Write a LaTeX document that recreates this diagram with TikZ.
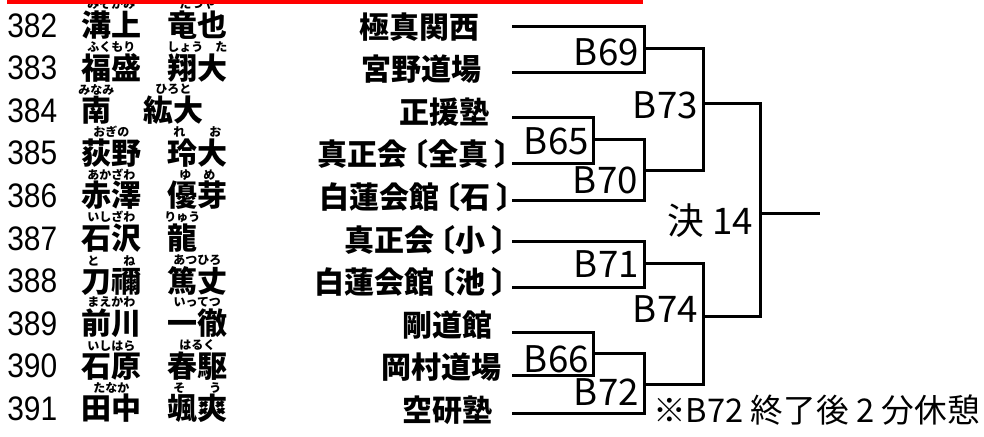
\documentclass[tikz,border=0pt]{standalone}
\usepackage{fontspec}
\newfontfamily\jpfont{Noto Sans CJK JP}
\newfontfamily\numfont[FakeStretch=0.88]{Liberation Sans}
\newcommand{\lbk}{\kern-0.3em〔}
\newcommand{\rbk}{\kern0.2em〕}
\tikzset{
    bline/.style={line width=2.25pt},
    club/.style={anchor=base west,inner sep=0pt,font=\jpfont\bfseries\fontsize{22.5}{22.5}\selectfont},
    pname/.style={anchor=base west,inner sep=0pt,font=\jpfont\bfseries\fontsize{22.5}{22.5}\selectfont},
    ruby/.style={anchor=base,inner sep=0pt,font=\jpfont\bfseries\fontsize{9}{9}\selectfont},
    pnum/.style={anchor=base west,inner sep=0pt,font=\numfont\fontsize{25.5}{25.5}\selectfont},
    mlabel/.style={anchor=base east,inner sep=0pt,font=\jpfont\fontsize{27.5}{27.5}\selectfont},
    note/.style={anchor=base west,inner sep=0pt,font=\jpfont\fontsize{24.5}{24.5}\selectfont}
}
\begin{document}
\begin{tikzpicture}[x=0.75pt,y=-0.75pt]
            \useasboundingbox (0,0) rectangle (984,436);
            \foreach \i/\n/\sn/\gn/\rs/\rg/\gx in {1/382/溝上/竜也/みぞがみ/たつや/167, 2/383/福盛/翔大/ふくもり/しょう　た/167, 3/384/南/紘大/みなみ/ひろと/143, 4/385/荻野/玲大/おぎの/れ　　お/167, 5/386/赤澤/優芽/あかざわ/ゆ　め/167, 6/387/石沢/龍/いしざわ/りゅう/167, 7/388/刀禰/篤丈/と　　ね/あつひろ/167, 8/389/前川/一徹/まえかわ/いってつ/167, 9/390/石原/春駆/いしはら/はるく/167, 10/391/田中/颯爽/たなか/そ　　う/167}{
                    \node[pnum] (n\i) at (7,{37+42.6*(\i-1)}) {\n};
                    \node[pname] (s\i) at (81,{36.5+42.6*(\i-1)}) {\sn};
                    \node[pname] (g\i) at (\gx,{36.5+42.6*(\i-1)}) {\gn};
                    \node[ruby] (rs\i) at ([yshift=1.4pt]s\i.north) {\rs};
                    \node[ruby] (rg\i) at ([yshift=1.4pt]g\i.north) {\rg};
                }
            \foreach \i/\x/\c in {1/359/極真関西, 2/361/宮野道場, 3/399/正援塾, 4/317/真正会\lbk 全真\rbk, 5/319/白蓮会館\lbk 石\rbk, 6/344/真正会\lbk 小\rbk, 7/314/白蓮会館\lbk 池\rbk, 8/402/剛道館, 9/381/岡村道場, 10/402/空研塾}
            \node[club] (k\i) at (\x,{38+42.6*(\i-1)}) {\c};
            \foreach \i/\y in {1/26,2/72,3/117,4/163,5/200,6/241,7/287,8/332,9/375,10/413}
            \coordinate (c\i) at (512,\y);
            \coordinate (b69) at (644,48);
            \coordinate (b65) at (593,139);
            \coordinate (b70) at (644,170);
            \coordinate (b73) at (703,103);
            \coordinate (b71) at (644,263);
            \coordinate (b66) at (593,353);
            \coordinate (b72) at (644,384);
            \coordinate (b74) at (703,316);
            \coordinate (f14) at (760,213);
            \coordinate (win) at (820,213);
            \draw[bline] (c1) -| (b69) |- (c2);
            \draw[bline] (c3) -| (b65) |- (c4);
            \draw[bline] (b65) -| (b70) |- (c5);
            \draw[bline] (b69) -| (b73) |- (b70);
            \draw[bline] (c6) -| (b71) |- (c7);
            \draw[bline] (c8) -| (b66) |- (c9);
            \draw[bline] (b66) -| (b72) |- (c10);
            \draw[bline] (b71) -| (b74) |- (b72);
            \draw[bline] (b73) -| (f14) |- (b74);
            \draw[bline] (f14) -- (win);
            \foreach \m/\p in {69/{639,65}, 65/{589,154}, 70/{638,193}, 73/{698,118}, 71/{639,277}, 66/{589,372}, 72/{639,405}, 74/{698,322}}
            \node[mlabel] (l\m) at (\p) {B\m};
            \node[mlabel] (l14) at (753,234) {決 14};
            \node[note] (memo) at (653,422) {※B72 終了後 2 分休憩};
            \fill[red] (7,0) rectangle (643,4);
\end{tikzpicture}
\end{document}
